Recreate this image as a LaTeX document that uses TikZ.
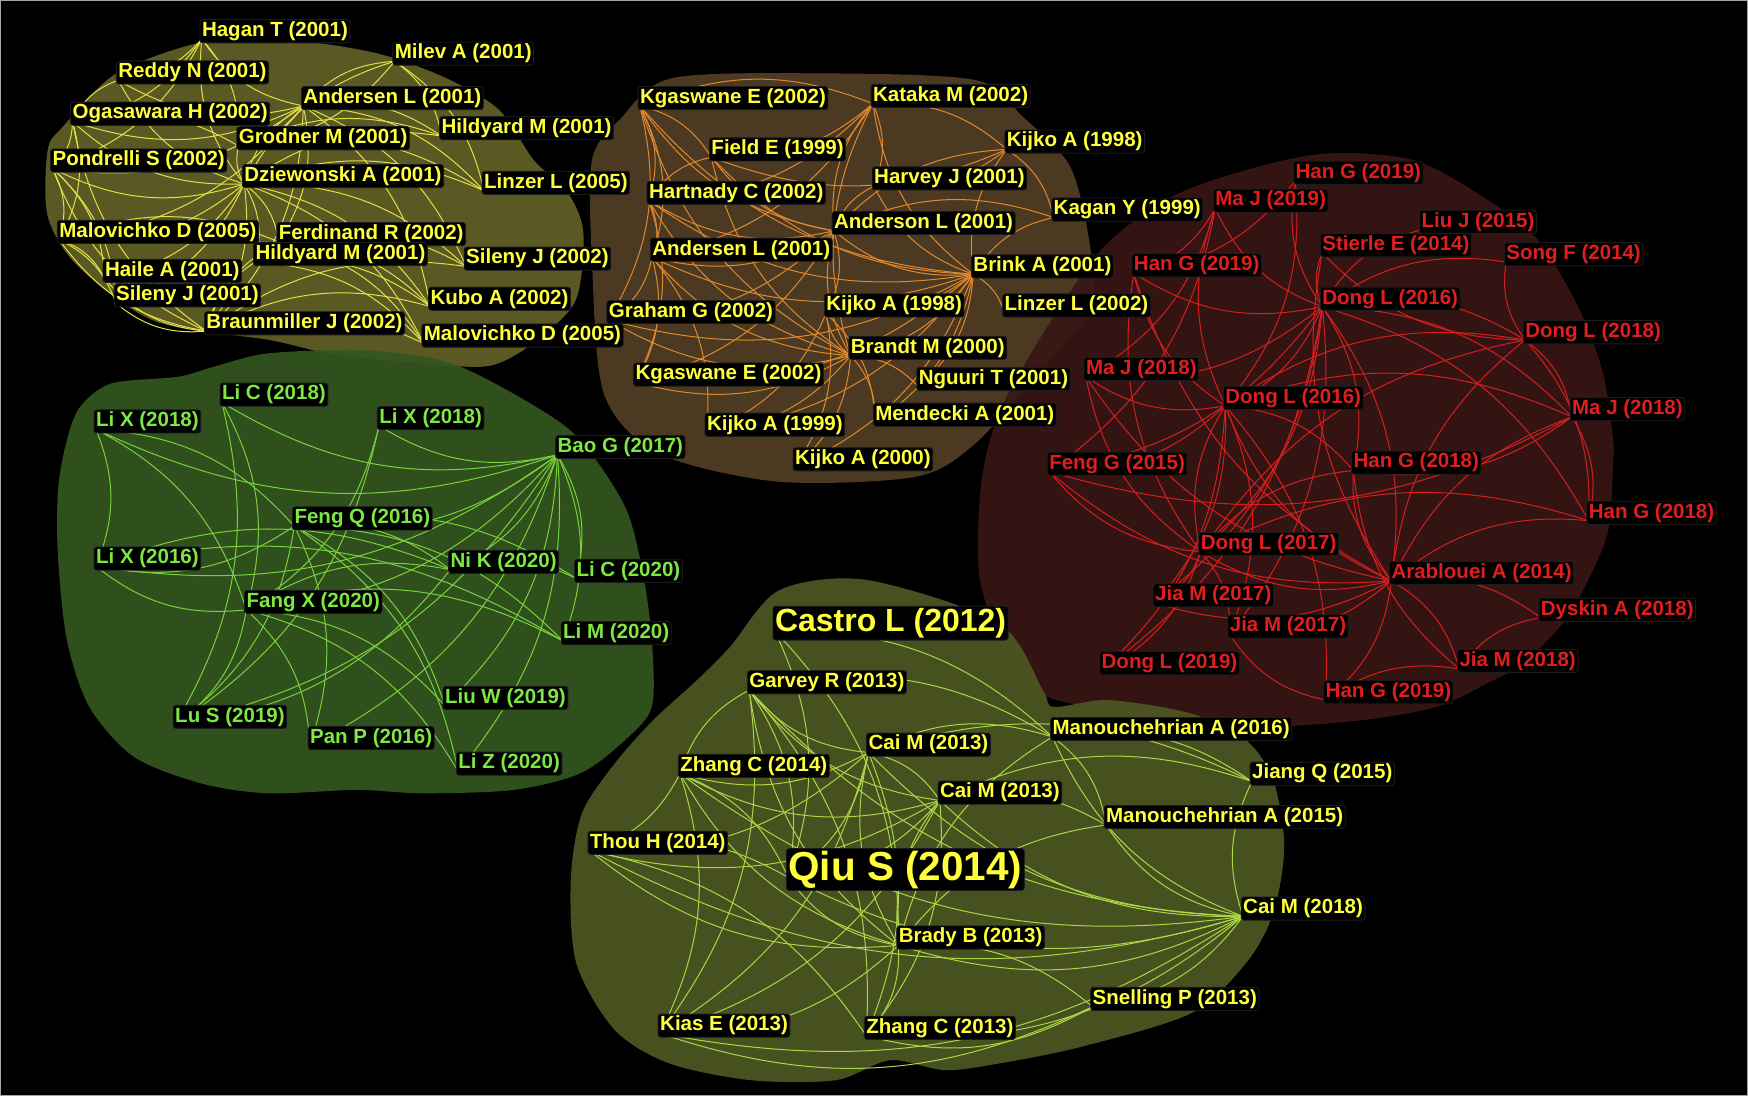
\documentclass[tikz,border=0pt]{standalone}
\usepackage{fontspec}
\setmainfont{Liberation Sans}
\pgfdeclarelayer{blobs}\pgfdeclarelayer{edges}
\pgfsetlayers{blobs,edges,main}
\definecolor{blobY}{RGB}{98,96,38}
\definecolor{blobO}{RGB}{82,63,36}
\definecolor{blobR}{RGB}{56,22,20}
\definecolor{blobG}{RGB}{52,86,32}
\definecolor{blobL}{RGB}{78,87,34}
\definecolor{edgeY}{RGB}{225,225,70}
\definecolor{edgeO}{RGB}{225,135,45}
\definecolor{edgeR}{RGB}{215,30,30}
\definecolor{edgeG}{RGB}{120,210,60}
\definecolor{edgeL}{RGB}{170,215,70}
\definecolor{txtY}{RGB}{255,255,60}
\definecolor{txtR}{RGB}{225,30,30}
\definecolor{txtG}{RGB}{125,232,65}
\definecolor{rim}{RGB}{28,28,28}
\tikzset{
  lab/.style={fill=black, draw=rim, line width=0.8pt, rounded corners=2.5pt, inner sep=1.8pt, anchor=west,
    font=\fontsize{18.4}{20}\selectfont\bfseries},
  labY/.style={lab, text=txtY},
  labR/.style={lab, text=txtR},
  labG/.style={lab, text=txtG},
  big/.style={lab, text=txtY, font=\fontsize{28.7}{32}\selectfont\bfseries},
  huge/.style={lab, text=txtY, font=\fontsize{36.3}{40}\selectfont\bfseries},
  eY/.style={draw=edgeY, line width=0.9pt},
  eO/.style={draw=edgeO, line width=0.9pt},
  eR/.style={draw=edgeR, line width=0.9pt},
  eG/.style={draw=edgeG, line width=0.9pt},
  eL/.style={draw=edgeL, line width=0.9pt},
  blob/.style={fill opacity=0.92},
}
\newcommand\mynode[5]{\coordinate (#1) at (#2,#3+7); \node[#5] (#1l) at (#2-2,#3) {#4};}
\newcommand\myhub[3]{\foreach \t in {#2} {\draw[#3] (#1) to[bend left=22] (\t);}}
\begin{document}
\begin{tikzpicture}[x=1pt,y=-1pt]
\begin{pgfonlayer}{blobs}
\fill[black] (0,0) rectangle (1568,983);
\draw[gray!70, line width=1pt] (0.5,0.5) rectangle (1567.5,982.5);
\fill[blobY,blob] plot[smooth cycle] coordinates {(42.8,194) (42.8,134.6) (56.5,113.6) (104.5,65.8) (183.5,37.4) (260,36) (338,47.8) (400,70) (447.8,98.7) (478.7,143.5) (509.6,173.4) (523.3,209) (516.5,269) (482,305) (440,328) (380,326) (300,318) (241.8,305) (138.9,288) (70.2,239)};
\fill[blobO,blob] plot[smooth cycle] coordinates {(531,233) (531,143.5) (555.7,107.6) (601.9,70.3) (733,65.8) (874.9,71.8) (917.4,104.7) (960,149.5) (977.8,221) (977.8,278) (928,338) (875,397.7) (821.7,427.6) (697.5,432) (591,406.7) (541.6,352.9)};
\fill[blobR,blob] plot[smooth cycle] coordinates {(1064,170.4) (1176.7,139) (1267,143.5) (1334.5,179.4) (1379.5,215.3) (1415.5,275) (1438,335) (1447,394.5) (1447,415) (1442.7,475.5) (1424.6,520.4) (1402,559) (1366,595) (1334,613) (1289,634) (1221.7,646) (1131,652) (1040,645) (942,626) (906,596) (879,520) (879,445) (888,394.5) (906,350) (951,275) (996.4,215.3)};
\fill[blobG,blob] plot[smooth cycle] coordinates {(72,364.8) (100,343.9) (160,337.9) (192,328.9) (240,317) (320,314) (380,320) (420,331.9) (480.6,364.8) (520.6,394.7) (560.7,454.5) (576.7,514.3) (584.7,574.1) (584.7,633.9) (560.7,663.8) (520.6,693.7) (460.6,708.6) (380,711.6) (320,708.6) (240,711.6) (180,702.6) (120,678.8) (80,633.9) (60,574.1) (52,499.4) (52,439.6) (60,394.7)};
\fill[blobL,blob] plot[smooth cycle] coordinates {(655,580.1) (699.2,529.3) (778,520.3) (896,559.2) (935.4,619) (945.2,634) (994.5,628) (1068.3,640) (1117.5,663.8) (1142.1,699.7) (1152,759.5) (1142.1,819.3) (1117.5,864.2) (1068.3,909) (969.9,939) (896,954) (847.8,960) (798.6,951) (749.4,969) (674,969) (600.7,954) (551.5,924) (517,864.2) (512,789.4) (522,729.6) (551.5,684.8) (586,645.9) (625.3,610)};
\end{pgfonlayer}
% yellow cluster
\mynode{yA}{181}{28}{Hagan T (2001)}{labY}
\mynode{yB}{354}{48}{Milev A (2001)}{labY}
\mynode{yC}{106}{65}{Reddy N (2001)}{labY}
\mynode{yD}{272}{88}{Andersen L (2001)}{labY}
\mynode{yE}{65}{102}{Ogasawara H (2002)}{labY}
\mynode{yF}{396}{115}{Hildyard M (2001)}{labY}
\mynode{yG}{214}{124}{Grodner M (2001)}{labY}
\mynode{yH}{47}{144}{Pondrelli S (2002)}{labY}
\mynode{yI}{219}{158}{Dziewonski A (2001)}{labY}
\mynode{yJ}{434}{164}{Linzer L (2005)}{labY}
\mynode{yK}{53}{208}{Malovichko D (2005)}{labY}
\mynode{yL}{250}{210}{Ferdinand R (2002)}{labY}
\mynode{yM}{229}{228}{Hildyard M (2001)}{labY}
\mynode{yN}{418}{232}{Sileny J (2002)}{labY}
\mynode{yO}{94}{243}{Haile A (2001)}{labY}
\mynode{yP}{104}{265}{Sileny J (2001)}{labY}
\mynode{yQ}{386}{268}{Kubo A (2002)}{labY}
\mynode{yR}{185}{290}{Braunmiller J (2002)}{labY}
\mynode{yS}{380}{301}{Malovichko D (2005)}{labY}
% orange cluster
\mynode{oA}{574}{88}{Kgaswane E (2002)}{labY}
\mynode{oB}{783}{86}{Kataka M (2002)}{labY}
\mynode{oC}{638}{134}{Field E (1999)}{labY}
\mynode{oD}{903}{127}{Kijko A (1998)}{labY}
\mynode{oE}{784}{160}{Harvey J (2001)}{labY}
\mynode{oF}{582}{173}{Hartnady C (2002)}{labY}
\mynode{oG}{945}{188}{Kagan Y (1999)}{labY}
\mynode{oH}{748}{200}{Anderson L (2001)}{labY}
\mynode{oI}{585}{224}{Andersen L (2001)}{labY}
\mynode{oJ}{873}{239}{Brink A (2001)}{labY}
\mynode{oK}{741}{274}{Kijko A (1998)}{labY}
\mynode{oL}{901}{274}{Linzer L (2002)}{labY}
\mynode{oM}{546}{280}{Graham G (2002)}{labY}
\mynode{oN}{763}{312}{Brandt M (2000)}{labY}
\mynode{oO}{570}{336}{Kgaswane E (2002)}{labY}
\mynode{oP}{824}{340}{Nguuri T (2001)}{labY}
\mynode{oQ}{785}{372}{Mendecki A (2001)}{labY}
\mynode{oR}{634}{381}{Kijko A (1999)}{labY}
\mynode{oS}{713}{412}{Kijko A (2000)}{labY}
% red cluster
\mynode{rA}{1162}{155}{Han G (2019)}{labR}
\mynode{rB}{1090}{180}{Ma J (2019)}{labR}
\mynode{rC}{1275}{199}{Liu J (2015)}{labR}
\mynode{rD}{1186}{220}{Stierle E (2014)}{labR}
\mynode{rE}{1351}{228}{Song F (2014)}{labR}
\mynode{rF}{1017}{238}{Han G (2019)}{labR}
\mynode{rG}{1186}{268}{Dong L (2016)}{labR}
\mynode{rH}{1368}{298}{Dong L (2018)}{labR}
\mynode{rI}{974}{331}{Ma J (2018)}{labR}
\mynode{rJ}{1099}{357}{Dong L (2016)}{labR}
\mynode{rK}{1410}{367}{Ma J (2018)}{labR}
\mynode{rL}{941}{416}{Feng G (2015)}{labR}
\mynode{rM}{1214}{415}{Han G (2018)}{labR}
\mynode{rN}{1425}{460}{Han G (2018)}{labR}
\mynode{rO}{1077}{488}{Dong L (2017)}{labR}
\mynode{rP}{1248}{514}{Arablouei A (2014)}{labR}
\mynode{rQ}{1036}{534}{Jia M (2017)}{labR}
\mynode{rR}{1382}{547}{Dyskin A (2018)}{labR}
\mynode{rS}{1103}{562}{Jia M (2017)}{labR}
\mynode{rT}{988}{595}{Dong L (2019)}{labR}
\mynode{rU}{1309}{593}{Jia M (2018)}{labR}
\mynode{rV}{1189}{621}{Han G (2019)}{labR}
% green cluster
\mynode{gA}{199}{354}{Li C (2018)}{labG}
\mynode{gB}{86}{378}{Li X (2018)}{labG}
\mynode{gC}{340}{375}{Li X (2018)}{labG}
\mynode{gD}{500}{401}{Bao G (2017)}{labG}
\mynode{gE}{264}{465}{Feng Q (2016)}{labG}
\mynode{gF}{86}{501}{Li X (2016)}{labG}
\mynode{gG}{404}{504}{Ni K (2020)}{labG}
\mynode{gH}{517}{512}{Li C (2020)}{labG}
\mynode{gI}{221}{540}{Fang X (2020)}{labG}
\mynode{gJ}{505}{568}{Li M (2020)}{labG}
\mynode{gK}{399}{626}{Liu W (2019)}{labG}
\mynode{gL}{157}{643}{Lu S (2019)}{labG}
\mynode{gM}{278}{662}{Pan P (2016)}{labG}
\mynode{gN}{411}{685}{Li Z (2020)}{labG}
% lower cluster
\mynode{lA}{695}{559}{Castro L (2012)}{big}
\mynode{lB}{672}{612}{Garvey R (2013)}{labY}
\mynode{lC}{944}{654}{Manouchehrian A (2016)}{labY}
\mynode{lD}{779}{668}{Cai M (2013)}{labY}
\mynode{lE}{610}{687}{Zhang C (2014)}{labY}
\mynode{lF}{1123}{694}{Jiang Q (2015)}{labY}
\mynode{lG}{843}{711}{Cai M (2013)}{labY}
\mynode{lH}{992}{733}{Manouchehrian A (2015)}{labY}
\mynode{lI}{529}{756}{Thou H (2014)}{labY}
\mynode{lJ}{707}{780}{Qiu S (2014)}{huge}
\mynode{lK}{1115}{815}{Cai M (2018)}{labY}
\mynode{lL}{806}{841}{Brady B (2013)}{labY}
\mynode{lM}{980}{896}{Snelling P (2013)}{labY}
\mynode{lN}{592}{920}{Kias E (2013)}{labY}
\mynode{lO}{777}{922}{Zhang C (2013)}{labY}
\begin{pgfonlayer}{edges}
% yellow
\myhub{yI}{yA,yC,yD,yE,yG,yH,yK,yL,yM,yO,yP,yR,yB,yF,yJ,yN,yQ,yS}{eY}
\myhub{yD}{yA,yB,yC,yE,yF,yG,yH,yJ,yK,yR,yQ,yN,yL}{eY}
\myhub{yR}{yK,yO,yP,yH,yE,yL,yM,yQ,yS,yN}{eY}
\myhub{yA}{yC,yE,yH,yG}{eY}
\myhub{yE}{yH,yK,yC,yG}{eY}
\myhub{yH}{yK,yO,yP}{eY}
\myhub{yB}{yF,yJ,yG}{eY}
\myhub{yK}{yO,yP,yL}{eY}
\myhub{yL}{yQ,yS,yN}{eY}
\myhub{yM}{yQ,yS}{eY}
\myhub{yG}{yF,yJ}{eY}
% orange
\myhub{oJ}{oA,oB,oC,oD,oE,oF,oG,oH,oI,oK,oL,oM,oN,oO,oP,oQ,oR,oS}{eO}
\myhub{oN}{oA,oB,oC,oF,oH,oI,oK,oM,oO,oR,oS,oQ,oP}{eO}
\myhub{oH}{oA,oB,oC,oD,oE,oF,oI,oG,oK,oM,oO}{eO}
\myhub{oA}{oF,oI,oM,oC,oB}{eO}
\myhub{oB}{oC,oE,oF,oI,oD}{eO}
\myhub{oD}{oE,oG,oC}{eO}
\myhub{oI}{oM,oO,oR}{eO}
\myhub{oF}{oI,oO,oC}{eO}
\myhub{oK}{oR,oS,oQ}{eO}
% red
\myhub{rG}{rA,rB,rC,rD,rE,rF,rH,rI,rJ,rL,rM,rO,rP,rQ,rS,rT,rK,rN}{eR}
\myhub{rP}{rJ,rO,rM,rN,rK,rH,rR,rU,rV,rS,rQ,rL,rI,rF,rD}{eR}
\myhub{rO}{rF,rI,rJ,rL,rQ,rT,rS,rM,rN,rH}{eR}
\myhub{rJ}{rB,rF,rI,rL,rM,rT,rS,rQ,rV,rH,rK}{eR}
\myhub{rH}{rE,rK,rN,rD}{eR}
\myhub{rK}{rM,rN,rL}{eR}
\myhub{rB}{rF,rI,rL}{eR}
\myhub{rA}{rF,rJ}{eR}
\myhub{rV}{rS,rU}{eR}
\myhub{rU}{rR,rM}{eR}
% green
\myhub{gD}{gA,gB,gC,gE,gF,gI,gG,gH,gJ,gK,gL,gM,gN}{eG}
\myhub{gB}{gE,gI,gF}{eG}
\myhub{gA}{gI,gL}{eG}
\myhub{gC}{gI,gL}{eG}
\myhub{gE}{gF,gG,gH,gK,gN,gM,gL,gJ}{eG}
\myhub{gI}{gF,gG,gJ,gK,gM,gN,gL}{eG}
\myhub{gF}{gG,gJ}{eG}
\myhub{gG}{gL,gH}{eG}
% lower
\myhub{lK}{lB,lC,lD,lE,lF,lG,lH,lI,lJ,lL,lM,lN,lO}{eL}
\myhub{lL}{lB,lD,lE,lG,lI,lJ,lN,lO,lC,lH,lM}{eL}
\myhub{lD}{lB,lE,lG,lJ,lN,lO,lC,lF,lI}{eL}
\myhub{lG}{lB,lE,lJ,lN,lO,lF,lH,lI}{eL}
\myhub{lE}{lB,lI,lJ,lN}{eL}
\myhub{lB}{lJ,lN,lO,lC}{eL}
\myhub{lA}{lJ,lL,lC}{eL}
\myhub{lC}{lF,lH}{eL}
\myhub{lI}{lJ,lO}{eL}
\myhub{lM}{lO,lN}{eL}
\end{pgfonlayer}
\end{tikzpicture}
\end{document}
